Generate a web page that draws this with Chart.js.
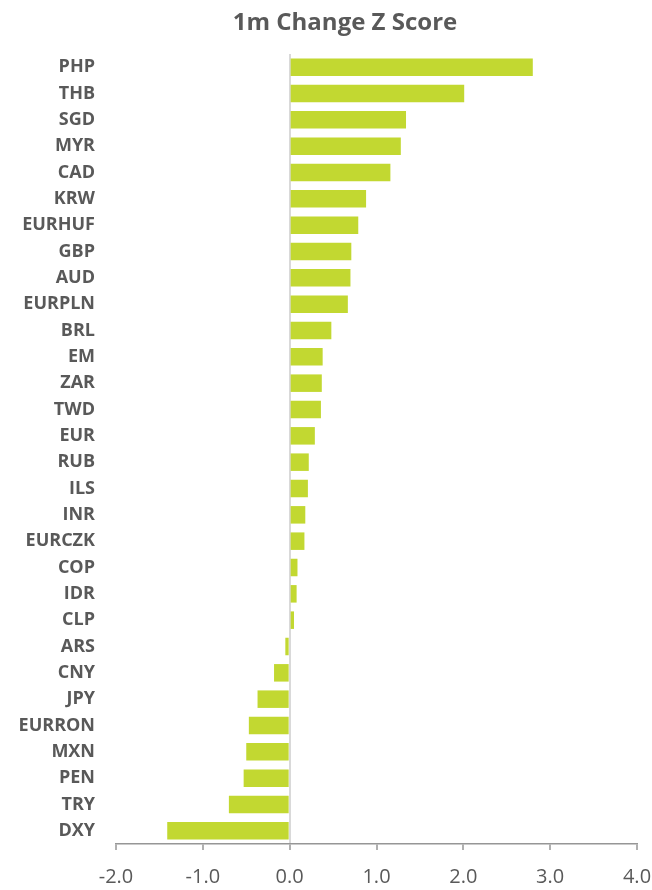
<!DOCTYPE html>
<html>
<head>
<meta charset="utf-8">
<script src="https://cdn.jsdelivr.net/npm/chart.js@4.4.1/dist/chart.umd.min.js"></script>
<style>
  html, body { margin: 0; padding: 0; background: #ffffff; }
  #wrap { position: relative; width: 652px; height: 890px; }
</style>
</head>
<body>
<div id="wrap"><canvas id="c" width="652" height="890"></canvas></div>
<script>
const titleText = "1m Change Z Score";
const categories = ["PHP","THB","SGD","MYR","CAD","KRW","EURHUF","GBP","AUD","EURPLN","BRL","EM","ZAR","TWD","EUR","RUB","ILS","INR","EURCZK","COP","IDR","CLP","ARS","CNY","JPY","EURRON","MXN","PEN","TRY","DXY"];
const zScores = [2.80,2.01,1.34,1.28,1.16,0.88,0.79,0.71,0.70,0.67,0.48,0.38,0.37,0.36,0.29,0.22,0.21,0.18,0.17,0.09,0.08,0.05,-0.05,-0.18,-0.37,-0.47,-0.50,-0.53,-0.70,-1.41];
const xTicks = [-2, -1, 0, 1, 2, 3, 4];

const textColor = '#595959';
const barColor = '#C2D831';

// shift the title's box so its centre sits where the reference places it
const titleShift = {
  id: 'titleShift',
  afterLayout(chart) {
    const t = chart.titleBlock;
    if (t) { t.left = 38; t.right = 652; }
  }
};

new Chart(document.getElementById('c'), {
  type: 'bar',
  data: {
    labels: categories,
    datasets: [{
      data: zScores,
      backgroundColor: barColor,
      borderWidth: 0,
      barPercentage: 0.665,
      categoryPercentage: 1.0
    }]
  },
  plugins: [titleShift],
  options: {
    indexAxis: 'y',
    responsive: false,
    animation: false,
    layout: { padding: 0 },
    plugins: {
      legend: { display: false },
      tooltip: { enabled: false },
      title: {
        display: true,
        text: titleText,
        color: textColor,
        font: { family: 'Open Sans', size: 24, weight: 'bold' },
        padding: { top: 9, bottom: 16.2 }
      }
    },
    scales: {
      x: {
        type: 'linear',
        min: xTicks[0],
        max: xTicks[xTicks.length - 1],
        afterBuildTicks: (s) => { s.ticks = xTicks.map(v => ({ value: v })); },
        afterFit: (s) => {
          s.height = 46;
          s.paddingLeft = 0;
          s.paddingRight = 15;
          s.paddingTop = 0;
          s.paddingBottom = 0;
        },
        ticks: {
          color: textColor,
          font: { family: 'Open Sans', size: 20 },
          padding: 15,
          callback: (v) => Number(v).toFixed(1)
        },
        grid: {
          display: true,
          drawOnChartArea: true,
          drawTicks: true,
          tickLength: 6,
          color: (ctx) => (ctx.tick && ctx.tick.value === 0) ? '#d9d9d9' : 'rgba(0,0,0,0)',
          lineWidth: 2,
          tickColor: '#969696',
          tickWidth: 1.5
        },
        border: { display: true, color: '#969696', width: 1.5 }
      },
      y: {
        afterFit: (s) => {
          s.width = 116;
          s.paddingTop = 0;
          s.paddingBottom = 0;
        },
        ticks: {
          color: textColor,
          font: { family: 'Open Sans', size: 18, weight: 'bold' },
          padding: 21,
          autoSkip: false
        },
        grid: { display: false, drawTicks: false },
        border: { display: false }
      }
    }
  }
});
</script>
</body>
</html>
